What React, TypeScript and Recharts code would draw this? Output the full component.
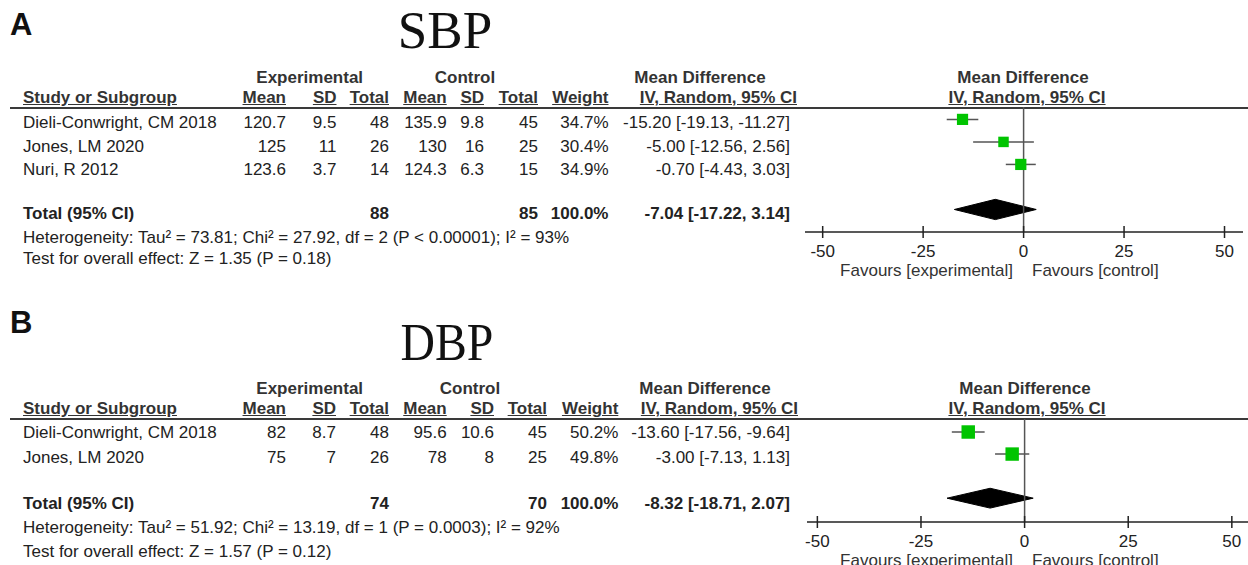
import React from 'react';
import { ComposedChart, Scatter, Area, XAxis, YAxis, ErrorBar, ReferenceLine } from 'recharts';

const W = 1248;
const SANS = "'Liberation Sans', Arial, Helvetica, sans-serif";
const SERIF = "'Liberation Serif', 'Times New Roman', serif";
const INK = '#222';

const xTicks = [-50, -25, 0, 25, 50];

// SBP
const sbpStudies = ['Dieli-Conwright, CM 2018', 'Jones, LM 2020', 'Nuri, R 2012'];
const sbpExpMean = [120.7, 125, 123.6];
const sbpExpSD = [9.5, 11, 3.7];
const sbpExpN = [48, 26, 14];
const sbpCtrlMean = [135.9, 130, 124.3];
const sbpCtrlSD = [9.8, 16, 6.3];
const sbpCtrlN = [45, 25, 15];
const sbpWeight = [34.7, 30.4, 34.9];
const sbpMD = [-15.2, -5.0, -0.7];
const sbpLow = [-19.13, -12.56, -4.43];
const sbpHigh = [-11.27, 2.56, 3.03];
const sbpTotalN = [88, 85];
const sbpTotalMD = [-7.04, -17.22, 3.14];
const sbpHet = 'Heterogeneity: Tau² = 73.81; Chi² = 27.92, df = 2 (P < 0.00001); I² = 93%';
const sbpTest = 'Test for overall effect: Z = 1.35 (P = 0.18)';

// DBP
const dbpStudies = ['Dieli-Conwright, CM 2018', 'Jones, LM 2020'];
const dbpExpMean = [82, 75];
const dbpExpSD = [8.7, 7];
const dbpExpN = [48, 26];
const dbpCtrlMean = [95.6, 78];
const dbpCtrlSD = [10.6, 8];
const dbpCtrlN = [45, 25];
const dbpWeight = [50.2, 49.8];
const dbpMD = [-13.6, -3.0];
const dbpLow = [-17.56, -7.13];
const dbpHigh = [-9.64, 1.13];
const dbpTotalN = [74, 70];
const dbpTotalMD = [-8.32, -18.71, 2.07];
const dbpHet = 'Heterogeneity: Tau² = 51.92; Chi² = 13.19, df = 1 (P = 0.0003); I² = 92%';
const dbpTest = 'Test for overall effect: Z = 1.57 (P = 0.12)';

const ci = (m: number, lo: number, hi: number) =>
  `${m.toFixed(2)} [${lo.toFixed(2)}, ${hi.toFixed(2)}]`;

// text placed by its cap-height centre
function T({ x, y, align = 'left', bold = false, size = 17, underline = false, serif = false, sx = 1, color = INK, children }: any) {
  const lh = Math.round(size * 1.2);
  const off = serif ? (lh - 1.107 * size) / 2 + 0.56 * size : (lh - 1.117 * size) / 2 + 0.547 * size;
  const style: React.CSSProperties = {
    position: 'absolute',
    top: y - off,
    lineHeight: lh + 'px',
    fontSize: size,
    fontFamily: serif ? SERIF : SANS,
    fontWeight: bold ? 'bold' : 'normal',
    whiteSpace: 'nowrap',
    color,
    textDecoration: underline ? 'underline' : 'none',
  };
  if (align === 'right') style.right = W - x;
  else if (align === 'center') {
    style.left = x;
    style.transform = `translateX(-50%) scaleX(${sx})`;
  } else style.left = x;
  return <div style={style}>{children}</div>;
}

const AxisTick = (props: any) => {
  const { x, y, payload } = props;
  return (
    <g>
      <line x1={x} x2={x} y1={y - 6} y2={y + 6} stroke={INK} strokeWidth={1.5} />
      <text x={x} y={y + 24.5} textAnchor="middle" fontSize={17} fontFamily={SANS} fill={INK}>
        {payload.value}
      </text>
    </g>
  );
};

const Square = (props: any) => {
  const { cx, cy, payload } = props;
  const s = 1.9 * Math.sqrt(payload.w);
  return <rect x={cx - s / 2} y={cy - s / 2} width={s} height={s} fill="#00c400" />;
};

const DIAMOND_HALF = 0.45;

function Panel({ d, L }: any) {
  const n = d.studies.length;
  const points = d.md.map((m: number, i: number) => ({
    x: m,
    y: i + 1,
    w: d.weight[i],
    err: [m - d.low[i], d.high[i] - m],
  }));
  const ty = n + 2;
  const [tm, tlo, thi] = d.totalMD;
  const diamond = [
    { x: tlo, band: [ty, ty] },
    { x: tm, band: [ty - DIAMOND_HALF, ty + DIAMOND_HALF] },
    { x: thi, band: [ty, ty] },
  ];
  const c = L.cols;
  return (
    <>
      <T x={10} y={L.labelY} bold size={31} color="#111">{L.label}</T>
      <T x={L.titleX} y={L.titleY} align="center" serif size={53} sx={L.titleSx} color="#111">{L.title}</T>

      <T x={L.h1.exp} y={L.h1Y} align="center" bold color="#333">Experimental</T>
      <T x={L.h1.ctrl} y={L.h1Y} align="center" bold color="#333">Control</T>
      <T x={L.h1.md} y={L.h1Y} align="center" bold color="#333">Mean Difference</T>
      <T x={L.h1.plot} y={L.h1Y} align="center" bold color="#333">Mean Difference</T>

      <T x={23} y={L.h2Y} bold underline color="#333">Study or Subgroup</T>
      <T x={c.expMean} y={L.h2Y} align="right" bold underline color="#333">Mean</T>
      <T x={c.expSD} y={L.h2Y} align="right" bold underline color="#333">SD</T>
      <T x={c.expN} y={L.h2Y} align="right" bold underline color="#333">Total</T>
      <T x={c.ctrlMean} y={L.h2Y} align="right" bold underline color="#333">Mean</T>
      <T x={c.ctrlSD} y={L.h2Y} align="right" bold underline color="#333">SD</T>
      <T x={c.ctrlN} y={L.h2Y} align="right" bold underline color="#333">Total</T>
      <T x={c.weight} y={L.h2Y} align="right" bold underline color="#333">Weight</T>
      <T x={c.ciHead} y={L.h2Y} align="right" bold underline color="#333">IV, Random, 95% CI</T>
      <T x={L.plotHeadX} y={L.h2Y} align="center" bold underline color="#333">IV, Random, 95% CI</T>

      <div style={{ position: 'absolute', left: 10, right: 0, top: L.lineY - 1, height: 2, background: '#3a3a3a' }} />

      {d.studies.map((s: string, i: number) => {
        const y = L.rowY[i];
        return (
          <React.Fragment key={s}>
            <T x={23} y={y}>{s}</T>
            <T x={c.expMean} y={y} align="right">{String(d.expMean[i])}</T>
            <T x={c.expSD} y={y} align="right">{String(d.expSD[i])}</T>
            <T x={c.expN} y={y} align="right">{String(d.expN[i])}</T>
            <T x={c.ctrlMean} y={y} align="right">{String(d.ctrlMean[i])}</T>
            <T x={c.ctrlSD} y={y} align="right">{String(d.ctrlSD[i])}</T>
            <T x={c.ctrlN} y={y} align="right">{String(d.ctrlN[i])}</T>
            <T x={c.weight} y={y} align="right">{d.weight[i].toFixed(1) + '%'}</T>
            <T x={c.ci} y={y} align="right">{ci(d.md[i], d.low[i], d.high[i])}</T>
          </React.Fragment>
        );
      })}

      <T x={23} y={L.totalY} bold>Total (95% CI)</T>
      <T x={c.expN} y={L.totalY} align="right" bold>{String(d.totalN[0])}</T>
      <T x={c.ctrlN} y={L.totalY} align="right" bold>{String(d.totalN[1])}</T>
      <T x={c.weight} y={L.totalY} align="right" bold>100.0%</T>
      <T x={c.ci} y={L.totalY} align="right" bold>{ci(tm, tlo, thi)}</T>
      <T x={23} y={L.hetY}>{d.het}</T>
      <T x={23} y={L.testY}>{d.test}</T>

      <div style={{ position: 'absolute', left: 800, top: L.chartTop }}>
        <ComposedChart
          width={448}
          height={L.chartH}
          margin={{ top: 7, right: L.mr, bottom: 0, left: L.ml }}
        >
          <XAxis
            type="number"
            dataKey="x"
            domain={L.xDomain}
            ticks={xTicks}
            interval={0}
            allowDataOverflow
            height={30}
            tickSize={0}
            tickMargin={0}
            tickLine={false}
            axisLine={{ stroke: INK, strokeWidth: 1.5 }}
            tick={<AxisTick />}
          />
          <YAxis type="number" dataKey="y" domain={L.yDomain} reversed hide allowDataOverflow />
          <ReferenceLine x={0} stroke="#555" strokeWidth={1.5} />
          <Area
            data={diamond}
            dataKey="band"
            type="linear"
            stroke="#000"
            fill="#000"
            fillOpacity={1}
            dot={false}
            activeDot={false}
            isAnimationActive={false}
          />
          <Scatter data={points} shape={<Square />} isAnimationActive={false}>
            <ErrorBar dataKey="err" direction="x" width={0} stroke="#555" strokeWidth={1.5} />
          </Scatter>
        </ComposedChart>
      </div>

      <T x={1013} y={L.favY} align="right" color="#333">Favours [experimental]</T>
      <T x={1032} y={L.favY} color="#333">Favours [control]</T>
    </>
  );
}

const sbp = {
  studies: sbpStudies, expMean: sbpExpMean, expSD: sbpExpSD, expN: sbpExpN,
  ctrlMean: sbpCtrlMean, ctrlSD: sbpCtrlSD, ctrlN: sbpCtrlN, weight: sbpWeight,
  md: sbpMD, low: sbpLow, high: sbpHigh, totalN: sbpTotalN, totalMD: sbpTotalMD,
  het: sbpHet, test: sbpTest,
};
const dbp = {
  studies: dbpStudies, expMean: dbpExpMean, expSD: dbpExpSD, expN: dbpExpN,
  ctrlMean: dbpCtrlMean, ctrlSD: dbpCtrlSD, ctrlN: dbpCtrlN, weight: dbpWeight,
  md: dbpMD, low: dbpLow, high: dbpHigh, totalN: dbpTotalN, totalMD: dbpTotalMD,
  het: dbpHet, test: dbpTest,
};

const layoutA = {
  label: 'A', labelY: 24.5, title: 'SBP', titleX: 445, titleY: 30.5, titleSx: 1,
  h1Y: 77.5, h2Y: 97.5, lineY: 107.5, rowY: [123.3, 147.3, 170], totalY: 213.5, hetY: 238, testY: 259,
  h1: { exp: 309.7, ctrl: 465, md: 700, plot: 1023 }, plotHeadX: 1027,
  cols: { expMean: 286, expSD: 336.5, expN: 389, ctrlMean: 446.7, ctrlSD: 484, ctrlN: 538, weight: 608.5, ciHead: 797, ci: 790 },
  chartTop: 100, chartH: 162, ml: 5, mr: 5, xDomain: [-54.4, 54.6], yDomain: [0.45, 6.0], favY: 270.5,
};
const layoutB = {
  label: 'B', labelY: 321.7, title: 'DBP', titleX: 447, titleY: 342.5, titleSx: 0.9,
  h1Y: 389, h2Y: 409, lineY: 419, rowY: [433.3, 458], totalY: 504, hetY: 528, testY: 551.5,
  h1: { exp: 309.7, ctrl: 470, md: 705, plot: 1025 }, plotHeadX: 1027,
  cols: { expMean: 286, expSD: 336, expN: 389, ctrlMean: 446.7, ctrlSD: 494, ctrlN: 547, weight: 618.3, ciHead: 798, ci: 790 },
  chartTop: 412, chartH: 140, ml: 7, mr: 0, xDomain: [-52.5, 53.9], yDomain: [0.41, 5.08], favY: 560.5,
};

export default function App() {
  return (
    <div
      style={{
        position: 'absolute',
        left: 0,
        top: 0,
        width: W,
        height: 565,
        background: '#fff',
        overflow: 'hidden',
        fontFamily: SANS,
      }}
    >
      <Panel d={sbp} L={layoutA} />
      <Panel d={dbp} L={layoutB} />
    </div>
  );
}
